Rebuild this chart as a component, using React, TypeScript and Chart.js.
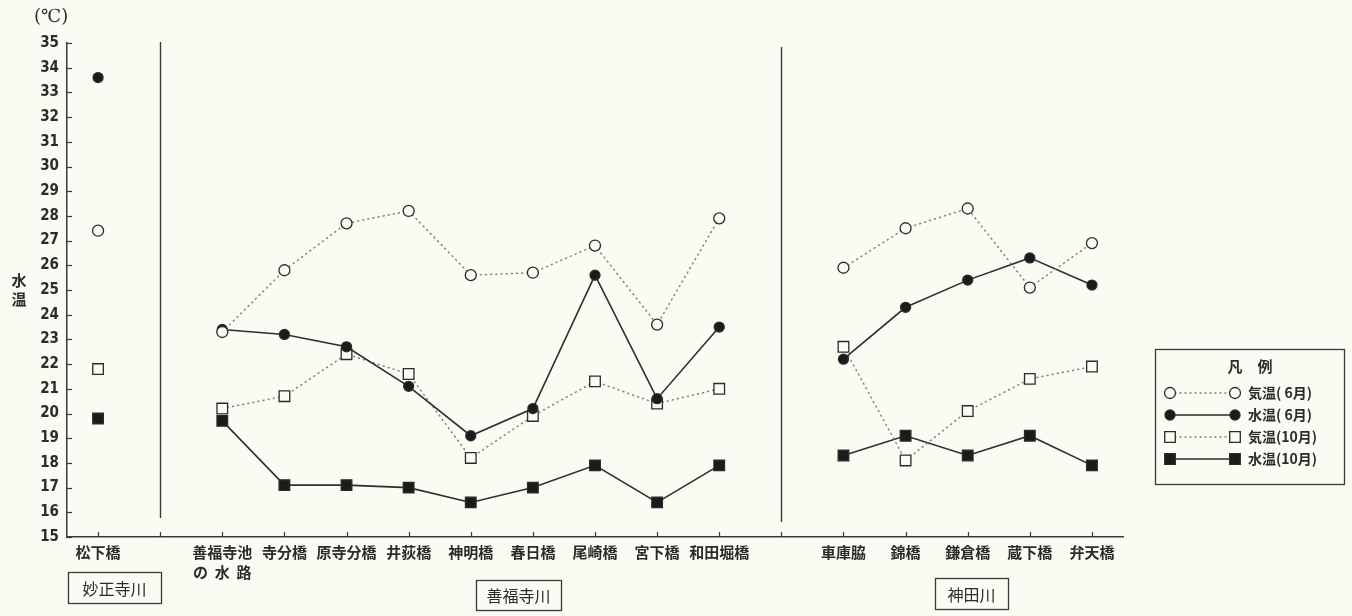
import React, { useEffect, useRef } from 'react';
import { Chart, registerables } from 'chart.js';

Chart.register(...registerables);

// Survey stations along the three rivers (empty slots separate the rivers)
const stations: (string | string[])[] = [
  '松下橋', '',
  ['善福寺池', 'の  水  路'], '寺分橋', '原寺分橋', '井荻橋', '神明橋', '春日橋', '尾崎橋', '宮下橋', '和田堀橋', '',
  '車庫脇', '錦橋', '鎌倉橋', '蔵下橋', '弁天橋',
];

// Temperatures in ℃
const airJune = [27.4, null, 23.3, 25.8, 27.7, 28.2, 25.6, 25.7, 26.8, 23.6, 27.9, null, 25.9, 27.5, 28.3, 25.1, 26.9];
const waterJune = [33.6, null, 23.4, 23.2, 22.7, 21.1, 19.1, 20.2, 25.6, 20.6, 23.5, null, 22.2, 24.3, 25.4, 26.3, 25.2];
const airOct = [21.8, null, 20.2, 20.7, 22.4, 21.6, 18.2, 19.9, 21.3, 20.4, 21.0, null, 22.7, 18.1, 20.1, 21.4, 21.9];
const waterOct = [19.8, null, 19.7, 17.1, 17.1, 17.0, 16.4, 17.0, 17.9, 16.4, 17.9, null, 18.3, 19.1, 18.3, 19.1, 17.9];

const seriesLabels = ['気温( 6月)', '水温( 6月)', '気温(10月)', '水温(10月)'];
const rivers = ['妙正寺川', '善福寺川', '神田川'];
const dividerSlots = [1, 11];

const yMin = 15;
const yMax = 35;

const W = 1352;
const H = 616;
const BG = '#fbfbf3';
const INK = '#2b2b2b';
const JP = "'Noto Sans CJK JP', 'Noto Sans', sans-serif";
const NUM = "'Liberation Sans Narrow', 'DejaVu Sans Condensed', 'Liberation Sans', sans-serif";

type Marker = { shape: 'circle' | 'rect'; filled: boolean; dotted: boolean };
const markers: Marker[] = [
  { shape: 'circle', filled: false, dotted: true },
  { shape: 'circle', filled: true, dotted: false },
  { shape: 'rect', filled: false, dotted: true },
  { shape: 'rect', filled: true, dotted: false },
];

function drawMarker(ctx: CanvasRenderingContext2D, m: Marker, x: number, y: number) {
  ctx.save();
  ctx.beginPath();
  if (m.shape === 'circle') {
    ctx.arc(x, y, m.filled ? 5 : 5.5, 0, Math.PI * 2);
  } else {
    const s = 5.3;
    ctx.rect(x - s, y - s, 2 * s, 2 * s);
  }
  ctx.fillStyle = m.filled ? '#1b1b1b' : BG;
  ctx.fill();
  ctx.lineWidth = 1.3;
  ctx.strokeStyle = '#2a2a2a';
  ctx.stroke();
  ctx.restore();
}

const decorations = {
  id: 'decorations',
  afterDraw(chart: any) {
    const { ctx, chartArea, scales } = chart;
    const xs = scales.x;
    const ys = scales.y;
    ctx.save();
    ctx.strokeStyle = '#3a3a3a';
    ctx.lineWidth = 1.2;

    // inward tick marks on the value axis
    for (let v = yMin; v <= yMax; v++) {
      const y = Math.round(ys.getPixelForValue(v)) + 0.5;
      ctx.beginPath();
      ctx.moveTo(chartArea.left, y);
      ctx.lineTo(chartArea.left + 5, y);
      ctx.stroke();
    }
    // inward tick marks on the station axis
    for (let i = 0; i < stations.length; i++) {
      const x = Math.round(xs.getPixelForValue(i)) + 0.5;
      ctx.beginPath();
      ctx.moveTo(x, chartArea.bottom);
      ctx.lineTo(x, chartArea.bottom - 5);
      ctx.stroke();
    }
    // river dividers
    ctx.lineWidth = 1.4;
    dividerSlots.forEach((slot, k) => {
      const x = Math.round(xs.getPixelForValue(slot)) + 0.5;
      ctx.beginPath();
      ctx.moveTo(x, chartArea.top + (k === 0 ? -1 : 4));
      ctx.lineTo(x, chartArea.bottom - (k === 0 ? 19 : 15));
      ctx.stroke();
    });

    // unit and axis title
    ctx.fillStyle = INK;
    ctx.font = `18px 'DejaVu Serif', serif`;
    ctx.textAlign = 'left';
    ctx.textBaseline = 'middle';
    ctx.fillText('(℃)', 34, 17);
    ctx.font = `bold 15px ${JP}`;
    ctx.textAlign = 'center';
    ctx.fillText('水', 19, 280);
    ctx.fillText('温', 19, 299);

    // river name boxes
    const boxes = [
      { x: 68, y: 572, w: 93, h: 31 },
      { x: 476, y: 580, w: 85, h: 30 },
      { x: 935, y: 578, w: 73, h: 31 },
    ];
    ctx.font = `16px ${JP}`;
    ctx.lineWidth = 1.3;
    boxes.forEach((b, i) => {
      ctx.strokeRect(b.x + 0.5, b.y + 0.5, b.w, b.h);
      ctx.fillText(rivers[i], b.x + b.w / 2, b.y + b.h / 2 + 1);
    });

    // legend
    const lx = 1155;
    const ly = 349;
    ctx.lineWidth = 1.3;
    ctx.strokeRect(lx + 0.5, ly + 0.5, 189, 135);
    ctx.font = `bold 15px ${JP}`;
    ctx.textAlign = 'center';
    ctx.fillText('凡　例', 1250, 366);
    const rowY = [393, 415, 437, 459];
    markers.forEach((m, i) => {
      const y = rowY[i];
      ctx.save();
      ctx.beginPath();
      ctx.moveTo(1170, y);
      ctx.lineTo(1235, y);
      if (m.dotted) {
        ctx.setLineDash([1, 4]);
        ctx.lineCap = 'round';
        ctx.strokeStyle = '#808080';
        ctx.lineWidth = 1.5;
      } else {
        ctx.strokeStyle = '#2a2a2a';
        ctx.lineWidth = 1.6;
      }
      ctx.stroke();
      ctx.restore();
      drawMarker(ctx, m, 1170, y);
      drawMarker(ctx, m, 1235, y);
      ctx.fillStyle = INK;
      ctx.font = `bold 14px ${JP}`;
      ctx.textAlign = 'left';
      ctx.fillText(seriesLabels[i], 1248, y);
    });
    ctx.restore();
  },
};

export default function App() {
  const ref = useRef<HTMLCanvasElement>(null);

  useEffect(() => {
    if (!ref.current) return;
    const series = [airJune, waterJune, airOct, waterOct];
    const datasets = series.map((data, i) => {
      const m = markers[i];
      return {
        label: seriesLabels[i],
        data,
        spanGaps: false,
        borderColor: m.dotted ? '#808080' : '#2e2e2e',
        borderWidth: m.dotted ? 1.5 : 1.6,
        borderDash: m.dotted ? [1, 4.2] : [],
        borderCapStyle: m.dotted ? 'round' : 'butt',
        pointStyle: m.shape,
        pointRadius: m.shape === 'circle' ? (m.filled ? 5 : 5.5) : 7.5,
        pointBackgroundColor: m.filled ? '#1b1b1b' : BG,
        pointBorderColor: '#2a2a2a',
        pointBorderWidth: 1.3,
        tension: 0,
        clip: false as any,
      };
    });

    const chart = new Chart(ref.current, {
      type: 'line',
      data: { labels: stations as any, datasets: datasets as any },
      options: {
        animation: false,
        responsive: false,
        maintainAspectRatio: false,
        layout: { padding: { top: 43, right: 229, left: 0, bottom: 0 } },
        plugins: {
          legend: { display: false },
          tooltip: { enabled: false },
        },
        scales: {
          x: {
            type: 'category',
            offset: true,
            grid: { display: false, drawTicks: false },
            border: { display: true, color: '#3a3a3a', width: 1.5 },
            ticks: {
              autoSkip: false,
              maxRotation: 0,
              minRotation: 0,
              padding: 5,
              color: INK,
              font: { family: JP, size: 15, weight: 'bold', lineHeight: 1.35 },
            },
            afterFit: (scale: any) => {
              scale.height = H - 537;
            },
          },
          y: {
            min: yMin,
            max: yMax,
            grid: { display: false, drawTicks: false },
            border: { display: true, color: '#3a3a3a', width: 1.5 },
            ticks: {
              stepSize: 1,
              padding: 8,
              color: INK,
              font: { family: NUM, size: 15, weight: 'bold' },
            },
            afterFit: (scale: any) => {
              scale.width = 67;
            },
          },
        },
      },
      plugins: [
        {
          id: 'paper',
          beforeDraw(c: any) {
            const g = c.ctx;
            g.save();
            g.fillStyle = BG;
            g.fillRect(0, 0, c.width, c.height);
            g.restore();
          },
        },
        decorations,
      ],
    });
    return () => chart.destroy();
  }, []);

  return (
    <div style={{ position: 'fixed', left: 0, top: 0, width: W, height: H, background: BG }}>
      <canvas ref={ref} width={W} height={H} style={{ width: W, height: H, display: 'block' }} />
    </div>
  );
}
